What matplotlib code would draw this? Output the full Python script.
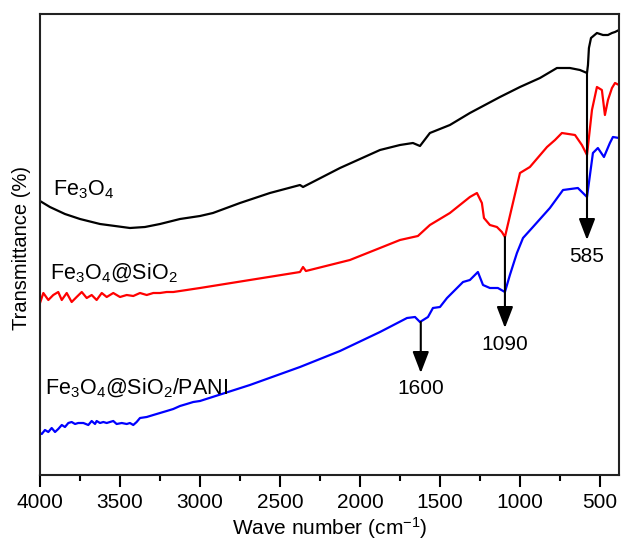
import matplotlib
matplotlib.use("Agg")
import matplotlib.pyplot as plt

plt.rcParams['font.family'] = ['Liberation Sans', 'DejaVu Sans']
plt.rcParams['mathtext.fontset'] = 'custom'
plt.rcParams['mathtext.rm'] = 'Liberation Sans'
plt.rcParams['mathtext.it'] = 'Liberation Sans:italic'

# ---- data (wavenumber, offset transmittance in arbitrary units) ----
fe3o4_wn = [4000, 3938, 3844, 3750, 3625, 3531, 3438, 3344, 3250, 3125, 3000, 2919,
            2750, 2563, 2375, 2356, 2125, 1875, 1750, 1669, 1625, 1563, 1438, 1313,
            1125, 1000, 875, 769, 688, 625, 581, 575, 569, 556, 519, 481, 450, 425,
            406, 381]
fe3o4_t = [274, 268, 261, 256, 251, 249, 247, 248, 251, 256, 259, 262,
           272, 282, 290, 288, 307, 325, 330, 332, 329, 342, 350, 362,
           378, 388, 397, 407, 407, 405, 402, 410, 427, 437, 442, 440, 440, 442,
           443, 445]

sio2_wn = [4000, 3979, 3948, 3917, 3886, 3864, 3833, 3802, 3771, 3739, 3708, 3677,
           3646, 3614, 3583, 3542, 3500, 3458, 3417, 3375, 3333, 3292, 3250, 3208,
           3167, 3125, 3083, 3042, 3000, 2688, 2531, 2375, 2356, 2338, 2063, 1875,
           1750, 1638, 1563, 1438, 1313, 1269, 1238, 1225, 1188, 1144, 1113, 1094,
           1050, 1000, 938, 831, 781, 738, 656, 613, 581, 550, 519, 488, 469, 450,
           425, 406, 381]
sio2_t = [172, 182, 175, 180, 183, 175, 182, 173, 178, 183, 177, 180,
          175, 182, 178, 182, 178, 180, 179, 182, 180, 182, 182, 183,
          183, 184, 185, 186, 187, 195, 199, 203, 208, 204, 215, 227,
          235, 239, 250, 262, 278, 282, 272, 257, 250, 248, 243, 238,
          268, 302, 308, 328, 335, 342, 340, 330, 320, 365, 388, 385, 360, 375,
          387, 392, 390]

pani_wn = [4000, 3989, 3969, 3948, 3927, 3906, 3886, 3864, 3844, 3823, 3802, 3781,
           3761, 3729, 3698, 3677, 3656, 3646, 3625, 3604, 3583, 3563, 3542, 3521,
           3489, 3458, 3438, 3417, 3396, 3375, 3333, 3292, 3250, 3208, 3167, 3125,
           3083, 3042, 3000, 2688, 2375, 2125, 1875, 1706, 1656, 1625, 1575, 1544,
           1500, 1456, 1356, 1313, 1263, 1231, 1188, 1138, 1094, 1063, 1019, 981,
           919, 813, 731, 638, 581, 544, 513, 475, 438, 419, 381]
pani_t = [42, 41, 45, 43, 47, 43, 46, 50, 48, 52, 53, 51,
          52, 52, 50, 54, 51, 54, 52, 53, 52, 53, 54, 51,
          52, 51, 52, 50, 53, 57, 58, 60, 62, 64, 66, 69,
          71, 73, 74, 90, 108, 124, 143, 157, 158, 153, 158, 167,
          168, 177, 193, 195, 203, 190, 187, 187, 183, 200, 222, 237,
          248, 267, 285, 287, 278, 322, 327, 318, 332, 338, 337]

names = ['Fe$_3$O$_4$', 'Fe$_3$O$_4$@SiO$_2$', 'Fe$_3$O$_4$@SiO$_2$/PANI']
colors = ['black', '#ff0000', '#0000ff']

# annotations: (wavenumber label, arrow start, arrow tip, text y)
peak_labels = ['1600', '1090', '585']
peak_wn = [1620, 1094, 581]
peak_start = [153, 238, 402]
peak_tip = [102, 147, 235]
peak_text_y = [87, 131, 218]

xticks = [4000, 3500, 3000, 2500, 2000, 1500, 1000, 500]

fig = plt.figure(figsize=(6.21, 5.43), dpi=100)
ax = fig.add_axes([40/621, 1-475/543, 579/621, 461/543])

for wn, t, c in zip([fe3o4_wn, sio2_wn, pani_wn], [fe3o4_t, sio2_t, pani_t], colors):
    ax.plot(wn, t, color=c, lw=1.6, solid_joinstyle='round')

ax.set_xlim(4000, 381)
ax.set_ylim(0, 461)

for lab, wn, s, tp, ty in zip(peak_labels, peak_wn, peak_start, peak_tip, peak_text_y):
    ax.annotate('', xy=(wn, tp), xytext=(wn, s),
                arrowprops=dict(arrowstyle='-|>,head_length=0.65,head_width=0.25',
                                color='black', lw=1.5, mutation_scale=20,
                                shrinkA=0, shrinkB=0), zorder=5)
    ax.text(wn, ty, lab, ha='center', va='center', fontsize=15)

# curve labels
ax.text(4000 - 6.25*13, 285, names[0], fontsize=15.5, va='center', ha='left')
ax.text(4000 - 6.25*10, 202, names[1], fontsize=15.5, va='center', ha='left')
ax.text(4000 - 6.25*5, 87, names[2], fontsize=15.5, va='center', ha='left')

ax.set_xticks(xticks)
ax.set_xticklabels([str(v) for v in xticks])
ax.set_xticks([3750, 3250, 2750, 2250, 1750, 1250, 750], minor=True)
ax.set_yticks([])
ax.tick_params(axis='x', which='major', direction='out', length=8.5, width=1.5,
               labelsize=15, pad=4.5)
ax.tick_params(axis='x', which='minor', direction='out', length=4.3, width=1.5)
for sp in ax.spines.values():
    sp.set_linewidth(1.5)
    sp.set_color('#222222')

ax.set_xlabel('Wave number (cm$^{-1}$)', fontsize=15, labelpad=2)
fig.text(22/621, 1-248/543, 'Transmittance (%)', rotation=90, ha='center',
         va='center', fontsize=14.5)

fig.savefig('out.png', dpi=100, facecolor='white')
